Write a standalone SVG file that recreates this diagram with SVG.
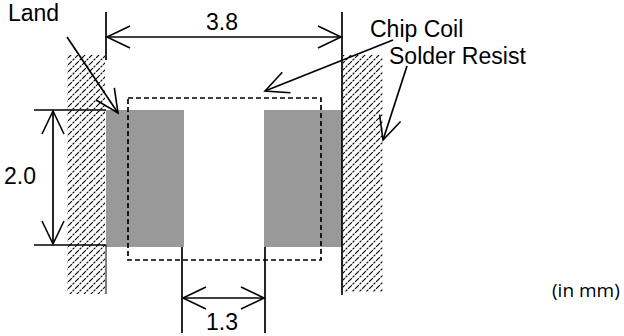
<svg xmlns="http://www.w3.org/2000/svg" width="624" height="336" viewBox="0 0 624 336">
<style>
.ln{stroke:#000;stroke-width:1.7;fill:none}
.thin{stroke:#000;stroke-width:1;fill:none}
.arr{marker-end:url(#ah)}
.dim{marker-start:url(#ahs);marker-end:url(#ah)}
.land{fill:#999999}
.hatch{fill:url(#hp)}
.t{font-family:"Liberation Sans",Arial,sans-serif;font-size:23px;fill:#000}
.s{font-family:"Open Sans","Noto Sans",sans-serif;font-size:19px;fill:#000}
</style>
<defs>
<pattern id="hp" patternUnits="userSpaceOnUse" width="7" height="7">
<path d="M0,7 L7,0 M-1,1 L1,-1 M6,8 L8,6" stroke="#000" stroke-width="1.1" stroke-dasharray="2.6 1"/>
</pattern>
<marker id="ah" viewBox="-26 -13 28 26" refX="0" refY="0" markerWidth="28" markerHeight="26" markerUnits="userSpaceOnUse" orient="auto" overflow="visible">
<path d="M-23,-11 L0,0 L-23,11" fill="none" stroke="#000" stroke-width="1.6"/>
</marker>
<marker id="ahs" viewBox="-26 -13 28 26" refX="0" refY="0" markerWidth="28" markerHeight="26" markerUnits="userSpaceOnUse" orient="auto-start-reverse" overflow="visible">
<path d="M-23,-11 L0,0 L-23,11" fill="none" stroke="#000" stroke-width="1.6"/>
</marker>
</defs>
<g id="solder-resist-left">
<rect class="hatch" x="67" y="55" width="38" height="239"/>
</g>
<g id="solder-resist-right">
<rect class="hatch" x="343" y="55" width="40" height="237"/>
</g>
<g id="land-left">
<rect class="land" x="106" y="110" width="78" height="137"/>
</g>
<g id="land-right">
<rect class="land" x="264" y="110" width="78" height="137"/>
</g>
<g id="chip-coil">
<rect x="128" y="98" width="193" height="162" class="ln" stroke-dasharray="5 3"/>
</g>
<g id="edges">
<line class="ln" x1="106" y1="12" x2="106" y2="60"/>
<line class="thin" x1="106" y1="245" x2="106" y2="294"/>
<line class="ln" x1="342" y1="12" x2="342" y2="295"/>
</g>
<g id="connectors">
<line class="ln dim" x1="107" y1="37" x2="341" y2="37"/>
<line class="ln" x1="34" y1="110" x2="106" y2="110"/>
<line class="ln" x1="34" y1="245" x2="106" y2="245"/>
<line class="ln dim" x1="53" y1="111" x2="53" y2="244"/>
<line class="ln" x1="182" y1="247" x2="182" y2="333"/>
<line class="ln" x1="265" y1="247" x2="265" y2="333"/>
<line class="ln dim" x1="183" y1="298" x2="264" y2="298"/>
<line class="ln arr" x1="67" y1="37" x2="118" y2="113"/>
<line class="ln arr" x1="393" y1="40" x2="265" y2="91"/>
<line class="ln arr" x1="407" y1="66" x2="383" y2="140"/>
</g>
<g id="labels">
<text class="t" x="8" y="21">Land</text>
<text class="t" x="222" y="30" text-anchor="middle">3.8</text>
<text class="t" x="370" y="37">Chip Coil</text>
<text class="t" x="389" y="64">Solder Resist</text>
<text class="t" x="20" y="184" text-anchor="middle">2.0</text>
<text class="t" x="222" y="330" text-anchor="middle">1.3</text>
<text class="s" x="552" y="297">(in mm)</text>
</g>
</svg>
